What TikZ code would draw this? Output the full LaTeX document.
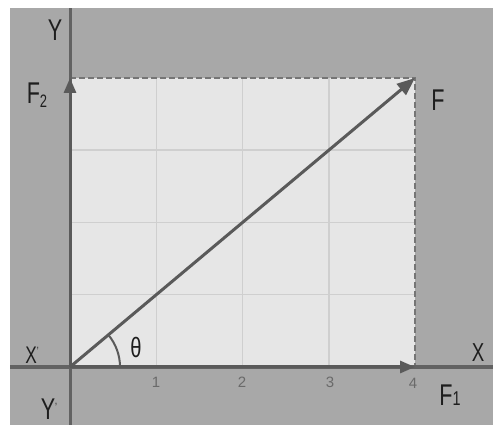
\documentclass[tikz,border=0pt]{standalone}
\usepackage{fontspec}
\usepackage{graphicx}
\setmainfont{Liberation Sans}
\usetikzlibrary{arrows.meta}
\definecolor{bggray}{HTML}{A8A8A8}
\definecolor{plotfill}{HTML}{E6E6E6}
\definecolor{gridc}{HTML}{CFCFCF}
\definecolor{axisc}{HTML}{626262}
\definecolor{vecc}{HTML}{5A5A5A}
\definecolor{dashc}{HTML}{757575}
\definecolor{txtc}{HTML}{1E1E1E}
\definecolor{tickc}{HTML}{6A6A6A}
\newcommand{\nlbl}[1]{\scalebox{0.72}[1]{#1}}
\begin{document}
\begin{tikzpicture}[x=1pt,y=1pt,
  gridline/.style={draw=gridc,line width=1.5pt},
  axisline/.style={draw=axisc,line width=3.5pt},
  dashline/.style={draw=dashc,line width=2.5pt,dash pattern=on 6pt off 3pt},
  vecline/.style={draw=vecc,line width=3pt,-{Triangle[length=18pt,width=14pt]}},
  compvec/.style={draw=vecc,line width=3pt,-{Triangle[length=15pt,width=12pt]}},
  lbl/.style={text=txtc,inner sep=0pt,font=\fontsize{30}{30}\selectfont},
  ticklbl/.style={text=tickc,inner sep=0pt,font=\fontsize{15}{15}\selectfont},
  anglearc/.style={draw=vecc,line width=2pt}]
\useasboundingbox (0,0) rectangle (493,425);
\fill[white] (0,0) rectangle (493,425);
\fill[bggray] (10,0) rectangle (493,417);
\fill[plotfill] (70,58) rectangle (415,347);
% grid
\foreach \gx in {156.25,242.5,328.75} \draw[gridline] (\gx,58) -- (\gx,347);
\foreach \gy in {130.25,202.5,274.75} \draw[gridline] (70,\gy) -- (415,\gy);
% coordinates
\coordinate (O) at (70,58);
\coordinate (Ftip) at (415,347);
\coordinate (F1tip) at (415,58);
\coordinate (F2tip) at (70,347);
\coordinate (xl) at (10,58);
\coordinate (xr) at (493,58);
\coordinate (yb) at (70,0);
\coordinate (yt) at (70,417);
% dashed projections
\draw[dashline] (F2tip) -- (Ftip) -- (F1tip);
% axes
\draw[axisline] (xl) -- (xr);
\draw[axisline,line width=3pt] (yb) -- (yt);
% vectors
\draw[compvec] (O) -- (F1tip);
\draw[compvec] (O) -- (F2tip);
\draw[vecline] (O) -- (Ftip);
% angle
\draw[anglearc] (O) ++(50,0) arc[start angle=0,end angle=40,radius=50];
% labels
\node[lbl] (lY) at (55,395) {\nlbl{Y}};
\node[lbl] (lF2) at (37,330) {\nlbl{F{\fontsize{18}{18}\selectfont\raisebox{-4pt}{2}}}};
\node[lbl] (lF) at (438,325) {\nlbl{F}};
\node[lbl,font=\fontsize{24}{24}\selectfont] (lX1) at (32,70) {\nlbl{X\raisebox{8pt}{\fontsize{12}{12}\selectfont'}}};
\node[lbl] (lY1) at (49,16) {\nlbl{Y\raisebox{8pt}{\fontsize{12}{12}\selectfont'}}};
\node[lbl,font=\fontsize{28}{28}\selectfont] (lth) at (136,77) {\nlbl{θ}};
\node[lbl,font=\fontsize{26}{26}\selectfont] (lX) at (478,72) {\nlbl{X}};
\node[lbl] (lF1) at (450,30) {\nlbl{F{\fontsize{20}{20}\selectfont 1}}};
\node[ticklbl] (t1) at (156,43) {1};
\node[ticklbl] (t2) at (242,43) {2};
\node[ticklbl] (t3) at (330,43) {3};
\node[ticklbl] (t4) at (413,42) {4};
\end{tikzpicture}
\end{document}
